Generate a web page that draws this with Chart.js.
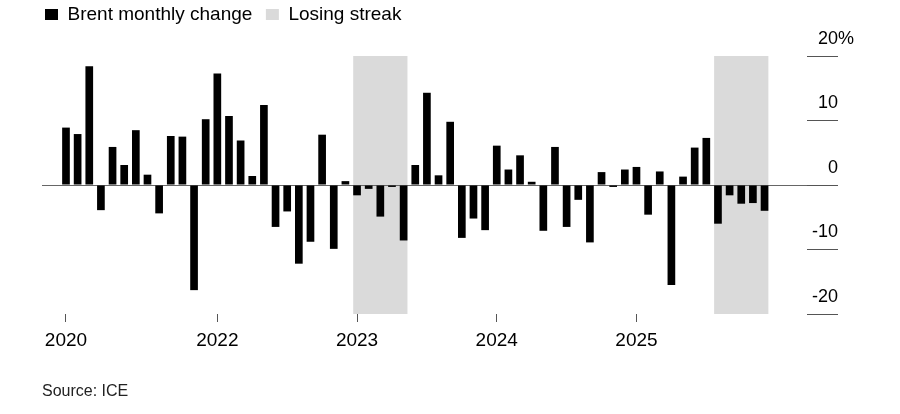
<!DOCTYPE html>
<html>
<head>
<meta charset="utf-8">
<script src="https://cdn.jsdelivr.net/npm/chart.js@4"></script>
<style>
    body { margin: 0; background: #fff; }
    #wrap { width: 900px; height: 414px; position: relative; }
</style>
</head>
<body>
<div id="wrap"><canvas id="brentChart"></canvas></div>
<script>
// Brent monthly change, %, Dec 2020 .. Dec 2025 (one value per month)
const monthlyChange = [
    8.9, 7.9, 18.4, -3.9, 5.9, 3.1, 8.5, 1.6, -4.4, 7.6, 7.5, -16.3,      // Dec 2020 - Nov 2021
    10.2, 17.3, 10.7, 6.9, 1.4, 12.4, -6.5, -4.1, -12.2, -8.8, 7.8, -9.9, // Dec 2021 - Nov 2022
    0.6, -1.6, -0.6, -4.9, -0.3, -8.6, 3.1, 14.3, 1.5, 9.8, -8.2, -5.2,   // Dec 2022 - Nov 2023
    -7.0, 6.1, 2.4, 4.6, 0.5, -7.1, 5.9, -6.5, -2.3, -8.9, 2.0, -0.3,     // Dec 2023 - Nov 2024
    2.4, 2.8, -4.6, 2.1, -15.5, 1.3, 5.8, 7.3, -6.0, -1.6, -2.9, -2.8,    // Dec 2024 - Nov 2025
    -4.0                                                                  // Dec 2025
];

// month index of each year label on the x axis
const yearTicks = [0, 13, 25, 37, 49];
const yearLabels = ["2020", "2022", "2023", "2024", "2025"];

// losing streaks: first and last month index
const streaks = [[25, 29], [56, 60]];

const Y_MIN = -20, Y_MAX = 20, Y_STEP = 10;

const FONT = '"Liberation Sans", Arial, sans-serif';
const PAD_RIGHT = 62;
const LABEL_OFFSET = -17;
const STREAK_COLOR = "#dadada";

Chart.defaults.font.family = FONT;
Chart.defaults.color = "#000";

// extra space under the legend
const legendGap = {
    id: "legendGap",
    beforeInit(chart) {
        const fit = chart.legend.fit;
        chart.legend.fit = function () {
            fit.call(this);
            this.height += 22;
        };
    }
};

// grey bands behind the losing streak months
const streakShade = {
    id: "streakShade",
    beforeDraw(chart) {
        const { ctx, scales: { y } } = chart;
        const bars = chart.getDatasetMeta(0).data;
        const top = y.getPixelForValue(Y_MAX);
        const bottom = y.getPixelForValue(Y_MIN);
        ctx.save();
        ctx.fillStyle = STREAK_COLOR;
        streaks.forEach(([from, to]) => {
            const left = bars[from].x - bars[from].width / 2;
            const right = bars[to].x + bars[to].width / 2;
            ctx.fillRect(left, top, right - left, bottom - top);
        });
        ctx.restore();
    }
};

// "%" after the top y label
const percentSign = {
    id: "percentSign",
    afterDraw(chart) {
        const { ctx, chartArea, scales: { y } } = chart;
        ctx.save();
        ctx.font = "18px " + FONT;
        ctx.fillStyle = "#000";
        ctx.textAlign = "left";
        ctx.textBaseline = "middle";
        ctx.fillText("%", chartArea.right, y.getPixelForValue(Y_MAX) + LABEL_OFFSET);
        ctx.restore();
    }
};

new Chart(document.getElementById("brentChart"), {
    type: "bar",
    data: {
        datasets: [{
            label: "Brent monthly change",
            data: monthlyChange.map((v, i) => ({ x: i, y: v })),
            backgroundColor: "#000",
            categoryPercentage: 1,
            barPercentage: 0.66
        }, {
            type: "line",
            label: "Losing streak",
            data: [],
            backgroundColor: STREAK_COLOR,
            borderColor: STREAK_COLOR,
            borderWidth: 0
        }]
    },
    options: {
        responsive: true,
        maintainAspectRatio: false,
        animation: false,
        layout: { padding: { top: 2, left: 42, right: PAD_RIGHT, bottom: 13 } },
        plugins: {
            tooltip: { enabled: false },
            legend: {
                position: "top",
                align: "start",
                labels: {
                    font: { size: 19 },
                    color: "#000",
                    boxWidth: 13,
                    boxHeight: 11,
                    padding: 3,
                    generateLabels(chart) {
                        const items = Chart.defaults.plugins.legend.labels.generateLabels(chart);
                        items[0].text += "  ";
                        return items;
                    }
                }
            },
            title: {
                display: true,
                text: "Source: ICE",
                position: "bottom",
                align: "start",
                color: "#222",
                font: { size: 16, weight: "normal" },
                padding: { top: 23, bottom: 0 }
            }
        },
        scales: {
            x: {
                type: "linear",
                min: -2.06,
                max: 66.31,
                offset: false,
                border: { display: false },
                grid: {
                    offset: false,
                    drawOnChartArea: false,
                    tickLength: 8,
                    tickColor: "#555"
                },
                afterBuildTicks(scale) {
                    scale.ticks = yearTicks.map(v => ({ value: v }));
                },
                ticks: {
                    autoSkip: false,
                    maxRotation: 0,
                    padding: 7,
                    font: { size: 19 },
                    callback: (value) => yearLabels[yearTicks.indexOf(value)]
                }
            },
            y: {
                position: "right",
                min: Y_MIN,
                max: Y_MAX,
                border: { display: false },
                grid: {
                    color: (ctx) => ctx.tick && ctx.tick.value === 0 ? "#666" : "rgba(0,0,0,0)",
                    tickColor: "#555",
                    tickLength: -31
                },
                ticks: {
                    stepSize: Y_STEP,
                    mirror: true,
                    padding: 0,
                    labelOffset: LABEL_OFFSET,
                    font: { size: 18 },
                    callback: (value) => String(value)
                }
            }
        }
    },
    plugins: [legendGap, streakShade, percentSign]
});
</script>
</body>
</html>
